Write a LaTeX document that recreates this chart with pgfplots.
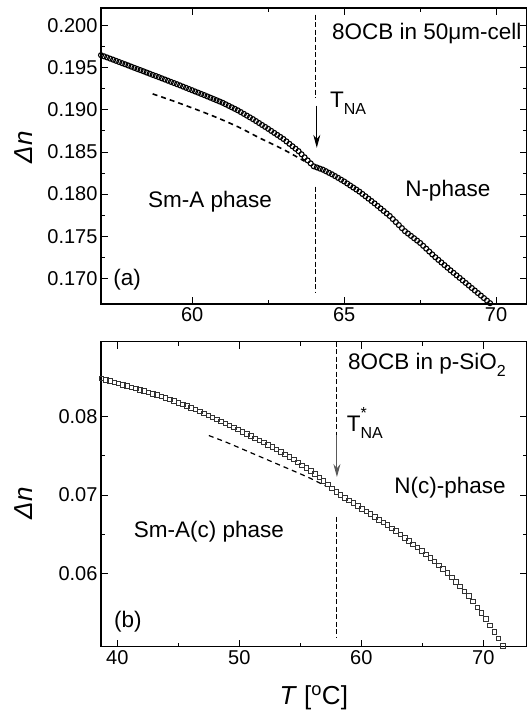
\documentclass[border=0pt]{standalone}
\usepackage{fontspec}
\setmainfont{Liberation Sans}
\usepackage{pgfplots}
\pgfplotsset{compat=1.18}
\usetikzlibrary{arrows.meta}

\newcommand{\lbl}{\fontsize{22.5}{26}\selectfont}
\newcommand{\sub}{\fontsize{16}{18}\selectfont}

\tikzset{
  vline/.style={black, line width=0.7pt, dash pattern=on 5pt off 2.5pt},
  fitline/.style={black, line width=1.6pt, dash pattern=on 5pt off 4pt},
}

\begin{document}
\begin{tikzpicture}
\pgfplotsset{
  every axis/.append style={
    scale only axis, width=425.5pt,
    axis line style={line width=1.3pt},
    tick style={line width=0.9pt, black},
    major tick length=7pt, minor tick length=4pt,
    tick align=inside,
    minor x tick num=1, minor y tick num=1,
    tick label style={font=\fontsize{20}{22}\selectfont},
    /pgf/number format/assume math mode=true,
    label style={font=\fontsize{26}{30}\selectfont},
    scaled y ticks=false,
  },
}

% ---- (a) bulk cell ----
\begin{axis}[
  at={(101pt,409pt)}, anchor=south west, height=296pt,
  xmin=57, xmax=71, ymin=0.16695, ymax=0.2021,
  xtick={60,65,70},
  ytick={0.170,0.175,0.180,0.185,0.190,0.195,0.200},
  yticklabel style={/pgf/number format/.cd, fixed, fixed zerofill, precision=3},
  ylabel={\textit{Δn}},
  y label style={at={(axis description cs:-0.183,0.53)}, anchor=center},
]
\addplot[only marks, mark=o, mark size=2.5pt, mark options={line width=1.1pt, black}] coordinates {
(57.0,0.19650)(57.1,0.19636)(57.2,0.19623)(57.3,0.19609)(57.4,0.19596)
(57.5,0.19582)(57.6,0.19568)(57.7,0.19554)(57.8,0.19541)(57.9,0.19527)
(58.0,0.19513)(58.1,0.19499)(58.2,0.19485)(58.3,0.19472)(58.4,0.19458)
(58.5,0.19444)(58.6,0.19430)(58.7,0.19416)(58.8,0.19403)(58.9,0.19389)
(59.0,0.19375)(59.1,0.19361)(59.2,0.19347)(59.3,0.19333)(59.4,0.19319)
(59.5,0.19305)(59.6,0.19291)(59.7,0.19276)(59.8,0.19262)(59.9,0.19247)
(60.0,0.19233)(60.1,0.19218)(60.2,0.19204)(60.3,0.19189)(60.4,0.19175)
(60.5,0.19160)(60.6,0.19145)(60.7,0.19130)(60.8,0.19115)(60.9,0.19100)
(61.0,0.19085)(61.1,0.19067)(61.2,0.19049)(61.3,0.19031)(61.4,0.19013)
(61.5,0.18995)(61.6,0.18974)(61.7,0.18953)(61.8,0.18932)(61.9,0.18911)
(62.0,0.18890)(62.1,0.18867)(62.2,0.18844)(62.3,0.18821)(62.4,0.18798)
(62.5,0.18775)(62.6,0.18751)(62.7,0.18727)(62.8,0.18703)(62.9,0.18679)
(63.0,0.18655)(63.1,0.18626)(63.2,0.18597)(63.3,0.18568)(63.4,0.18539)
(63.5,0.18510)(63.6,0.18473)(63.7,0.18437)(63.8,0.18400)(63.9,0.18365)
(64.0,0.18330)(64.1,0.18317)(64.2,0.18303)(64.3,0.18290)(64.4,0.18272)
(64.5,0.18253)(64.6,0.18235)(64.7,0.18214)(64.8,0.18193)(64.9,0.18171)
(65.0,0.18150)(65.1,0.18126)(65.2,0.18102)(65.3,0.18078)(65.4,0.18054)
(65.5,0.18030)(65.6,0.18002)(65.7,0.17974)(65.8,0.17946)(65.9,0.17918)
(66.0,0.17890)(66.1,0.17860)(66.2,0.17830)(66.3,0.17800)(66.4,0.17770)
(66.5,0.17740)(66.6,0.17704)(66.7,0.17668)(66.8,0.17632)(66.9,0.17596)
(67.0,0.17560)(67.1,0.17532)(67.2,0.17504)(67.3,0.17476)(67.4,0.17448)
(67.5,0.17420)(67.6,0.17386)(67.7,0.17352)(67.8,0.17318)(67.9,0.17284)
(68.0,0.17250)(68.1,0.17219)(68.2,0.17188)(68.3,0.17157)(68.4,0.17126)
(68.5,0.17095)(68.6,0.17065)(68.7,0.17035)(68.8,0.17005)(68.9,0.16975)
(69.0,0.16945)(69.1,0.16915)(69.2,0.16885)(69.3,0.16855)(69.4,0.16825)
(69.5,0.16795)(69.6,0.16765)(69.7,0.16735)(69.8,0.16705)
};
\addplot[fitline, smooth] coordinates {
(58.7,0.1919)(59.5,0.1909)(60.6,0.1894)(61.5,0.1880)(62.2,0.1867)(63.0,0.1853)(63.7,0.1839)
};
\draw[vline] (axis cs:64.05,0.2013) -- (axis cs:64.05,0.1914);
\draw[vline] (axis cs:64.05,0.1809) -- (axis cs:64.05,0.1684);
\draw[black, line width=1pt, -{Stealth[length=13pt,width=7pt]}] (axis cs:64.1,0.1905) -- (axis cs:64.1,0.1855);
\node[anchor=west, font=\lbl, inner sep=0pt] at (axis cs:64.6,0.1991) {8OCB in 50μm-cell};
\node[anchor=west, font=\lbl, inner sep=0pt] at (axis cs:64.53,0.1908) {T\raisebox{-0.3em}{\sub NA}};
\node[font=\lbl] at (axis cs:60.59,0.17907) {Sm-A phase};
\node[font=\lbl] at (axis cs:68.41,0.1804) {N-phase};
\node[font=\lbl] at (axis cs:57.86,0.16989) {(a)};
\end{axis}

% ---- (b) porous silica ----
\begin{axis}[
  at={(101pt,66.3pt)}, anchor=south west, height=305pt,
  xmin=38.66, xmax=73.54, ymin=0.0506, ymax=0.0896,
  xtick={40,50,60,70},
  ytick={0.06,0.07,0.08},
  yticklabel style={/pgf/number format/.cd, fixed, fixed zerofill, precision=2},
  ylabel={\textit{Δn}},
  y label style={at={(axis description cs:-0.183,0.47)}, anchor=center},
  xlabel={\textit{T} [\textsuperscript{o}C]},
  x label style={at={(axis description cs:0.5,0)}, yshift=-51pt, anchor=center},
]
\addplot[only marks, mark=square, mark size=2.3pt, mark options={line width=0.8pt, black!80}] coordinates {
(38.70,0.08490)(39.05,0.08474)(39.40,0.08458)(39.75,0.08441)(40.10,0.08426)
(40.45,0.08410)(40.80,0.08394)(41.15,0.08378)(41.50,0.08363)(41.85,0.08347)
(42.20,0.08330)(42.55,0.08313)(42.90,0.08295)(43.25,0.08278)(43.60,0.08260)
(43.95,0.08243)(44.30,0.08222)(44.65,0.08201)(45.00,0.08180)(45.35,0.08159)
(45.70,0.08138)(46.05,0.08117)(46.40,0.08092)(46.75,0.08068)(47.10,0.08043)
(47.45,0.08019)(47.80,0.07994)(48.15,0.07969)(48.50,0.07943)(48.85,0.07916)
(49.20,0.07890)(49.55,0.07864)(49.90,0.07838)(50.25,0.07810)(50.60,0.07782)
(50.95,0.07754)(51.30,0.07726)(51.65,0.07698)(52.00,0.07670)(52.35,0.07640)
(52.70,0.07611)(53.05,0.07581)(53.40,0.07551)(53.75,0.07521)(54.10,0.07490)
(54.45,0.07453)(54.80,0.07416)(55.15,0.07379)(55.50,0.07343)(55.85,0.07306)
(56.20,0.07266)(56.55,0.07224)(56.90,0.07182)(57.25,0.07135)(57.60,0.07086)
(57.95,0.07037)(58.30,0.07000)(58.65,0.06965)(59.00,0.06930)(59.35,0.06895)
(59.70,0.06860)(60.05,0.06825)(60.40,0.06790)(60.75,0.06755)(61.10,0.06720)
(61.45,0.06685)(61.80,0.06650)(62.15,0.06614)(62.50,0.06575)(62.85,0.06537)
(63.20,0.06496)(63.55,0.06454)(63.90,0.06412)(64.25,0.06370)(64.60,0.06328)
(64.95,0.06286)(65.30,0.06241)(65.65,0.06196)(66.00,0.06150)(66.35,0.06101)
(66.70,0.06052)(67.05,0.06002)(67.40,0.05946)(67.75,0.05890)(68.10,0.05832)
(68.45,0.05769)(68.80,0.05706)(69.15,0.05639)(69.50,0.05565)(69.85,0.05492)
(70.20,0.05414)(70.55,0.05334)(70.90,0.05253)(71.25,0.05164)(71.60,0.05070)
};
\addplot[fitline, line width=1.2pt, smooth] coordinates {
(47.5,0.0776)(49.0,0.0767)(50.5,0.0757)(52.0,0.0747)(53.5,0.0737)(55.0,0.0727)(56.0,0.0720)(57.0,0.0712)
};
\draw[vline] (axis cs:57.95,0.0896) -- (axis cs:57.95,0.0741);
\draw[vline] (axis cs:57.95,0.0672) -- (axis cs:57.95,0.0517);
\draw[black!65, line width=1pt, -{Stealth[length=13pt,width=7pt]}] (axis cs:58.0,0.0777) -- (axis cs:58.0,0.0723);
\node[anchor=west, font=\lbl, inner sep=0pt] at (axis cs:58.9,0.0866) {8OCB in p-SiO\raisebox{-0.3em}{\sub 2}};
\node[anchor=west, font=\lbl, inner sep=0pt] at (axis cs:58.8,0.0792) {T\rlap{\raisebox{0.55em}{\sub *}}\raisebox{-0.3em}{\sub NA}};
\node[font=\lbl] at (axis cs:47.51,0.06527) {Sm-A(c) phase};
\node[font=\lbl] at (axis cs:67.27,0.0709) {N(c)-phase};
\node[font=\lbl] at (axis cs:40.87,0.05378) {(b)};
\end{axis}

\pgfresetboundingbox
\path[use as bounding box] (0,0) rectangle (527pt,713pt);
\end{tikzpicture}
\end{document}
